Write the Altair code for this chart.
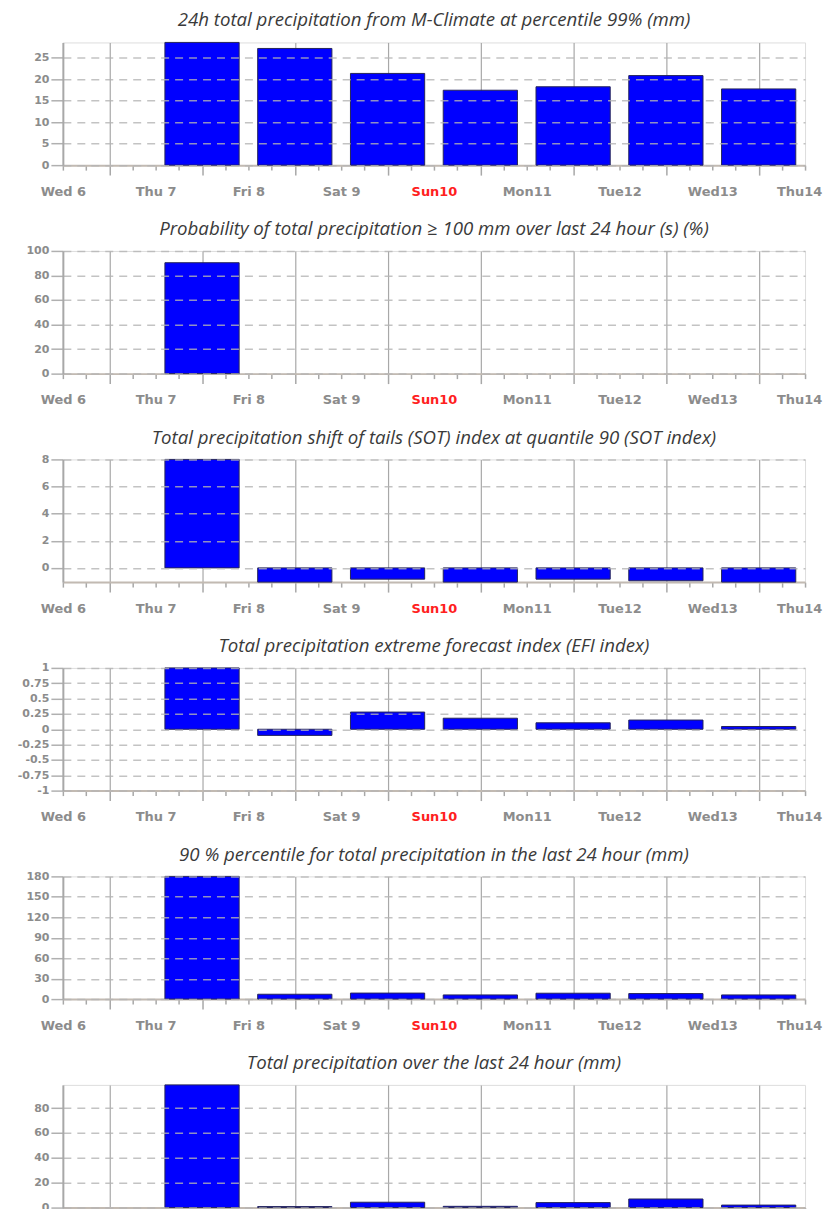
import json
import altair as alt
import pandas as pd

# ---- data ----
day_labels = ["Wed 6", "Thu 7", "Fri 8", "Sat 9", "Sun10", "Mon11", "Tue12", "Wed13", "Thu14"]
bar_day_index = [1, 2, 3, 4, 5, 6, 7]  # Thu 7 .. Wed13

titles = [
    "24h total precipitation from M-Climate at percentile 99% (mm)",
    "Probability of total precipitation \u2265 100 mm over last 24 hour (s) (%)",
    "Total precipitation shift of tails (SOT) index at quantile 90 (SOT index)",
    "Total precipitation extreme forecast index (EFI index)",
    "90 % percentile for total precipitation in the last 24 hour (mm)",
    "Total precipitation over the last 24 hour (mm)",
]

mclimate_p99 = [28.5, 27.1, 21.3, 17.4, 18.2, 20.8, 17.7]
prob_100mm = [90.4, 0, 0, 0, 0, 0, 0]
sot_q90 = [8.0, -1.05, -0.83, -1.05, -0.83, -0.95, -1.05]
efi_index = [1.0, -0.1, 0.28, 0.18, 0.105, 0.15, 0.045]
p90_precip = [180.0, 7.1, 8.8, 6.1, 8.6, 8.1, 6.1]
total_24h = [98.6, 0.8, 4.3, 1.0, 4.0, 6.9, 2.0]

series = [mclimate_p99, prob_100mm, sot_q90, efi_index, p90_precip, total_24h]

y_domains = [[0, 28.5], [0, 100], [-1.05, 8], [-1, 1], [0, 180], [0, 98.6]]
y_ticks = [
    [0, 5, 10, 15, 20, 25],
    [0, 20, 40, 60, 80, 100],
    [0, 2, 4, 6, 8],
    [-1, -0.75, -0.5, -0.25, 0, 0.25, 0.5, 0.75, 1],
    [0, 30, 60, 90, 120, 150, 180],
    [0, 20, 40, 60, 80],
]

# ---- styling ----
GRAY_LABEL = "#8c8c8c"
FRAME = "#c2bab2"
x_tick_values = [i * 0.25 for i in range(33)]
noon = "abs(datum.value % 1 - 0.5) < 0.001"
last_day = "datum.value > 7.9"

x_axis = alt.Axis(
    values=x_tick_values,
    labelExpr=f"abs(datum.value % 1) < 0.001 ? {json.dumps(day_labels)}[round(datum.value)] : ''",
    labelOverlap=False,
    labelFlush=False,
    labelFont="DejaVu Sans",
    labelFontWeight="bold",
    labelFontSize=13,
    labelOffset={"condition": {"test": last_day, "value": -6}, "value": 0},
    labelColor={"condition": {"test": "abs(datum.value - 4) < 0.001", "value": "#ff2020"}, "value": GRAY_LABEL},
    labelPadding=15,
    tickSize={"condition": {"test": noon, "value": 10}, "value": 5},
    tickColor="#a8a8a8",
    tickWidth=1.5,
    grid=True,
    gridColor="#a8a8a8",
    gridWidth=1.2,
    gridOpacity={"condition": {"test": noon, "value": 1}, "value": 0},
    domainColor=FRAME,
    domainWidth=2,
    title=None,
)


def y_axis(ticks):
    return alt.Axis(
        values=ticks,
        labelExpr="'' + datum.value",
        labelFont="DejaVu Sans",
        labelFontWeight="bold",
        labelFontSize=11,
        labelColor=GRAY_LABEL,
        labelPadding=2,
        tickSize=12,
        tickColor="#b0b0b0",
        tickWidth=1.5,
        grid=True,
        gridColor="#b4b4b4",
        gridDash=[8, 6],
        gridWidth=1.5,
        gridOpacity=0.8,
        domainColor="#a8a8a8",
        domainWidth=2,
        zindex=1,
        title=None,
    )


panels = []
for title, vals, dom, ticks in zip(titles, series, y_domains, y_ticks):
    df = pd.DataFrame({"d": bar_day_index, "v": vals})
    top_has_label = abs(ticks[-1] - dom[1]) < 1e-9
    ch = (
        alt.Chart(df)
        .transform_filter("datum.v != 0")
        .transform_calculate(x0="datum.d + 0.1", x1="datum.d + 0.9")
        .mark_bar(color="#0000ff", stroke="#26265a", strokeWidth=1)
        .encode(
            x=alt.X("x0:Q", scale=alt.Scale(domain=[0, 8], nice=False, zero=False), axis=x_axis),
            x2="x1:Q",
            y=alt.Y("v:Q", scale=alt.Scale(domain=dom, nice=False), axis=y_axis(ticks)),
            y2=alt.datum(0),
        )
        .properties(
            width=744,
            height=123,
            title=alt.TitleParams(
                title,
                font="Open Sans",
                fontStyle="italic",
                fontWeight="normal",
                fontSize=18.7,
                color="#3a3a3a",
                anchor="middle",
                frame="group",
                offset=6 if top_has_label else 12,
            ),
        )
    )
    panels.append(ch)

chart = (
    alt.vconcat(*panels, spacing=86, bounds="flush")
    .configure_view(stroke=FRAME, strokeWidth=2)
    .configure(background="white")
    .properties(padding={"left": 8, "top": 1, "right": 0, "bottom": 0})
)

chart.save("out.html", embed_options={"renderer": "svg", "actions": False})
